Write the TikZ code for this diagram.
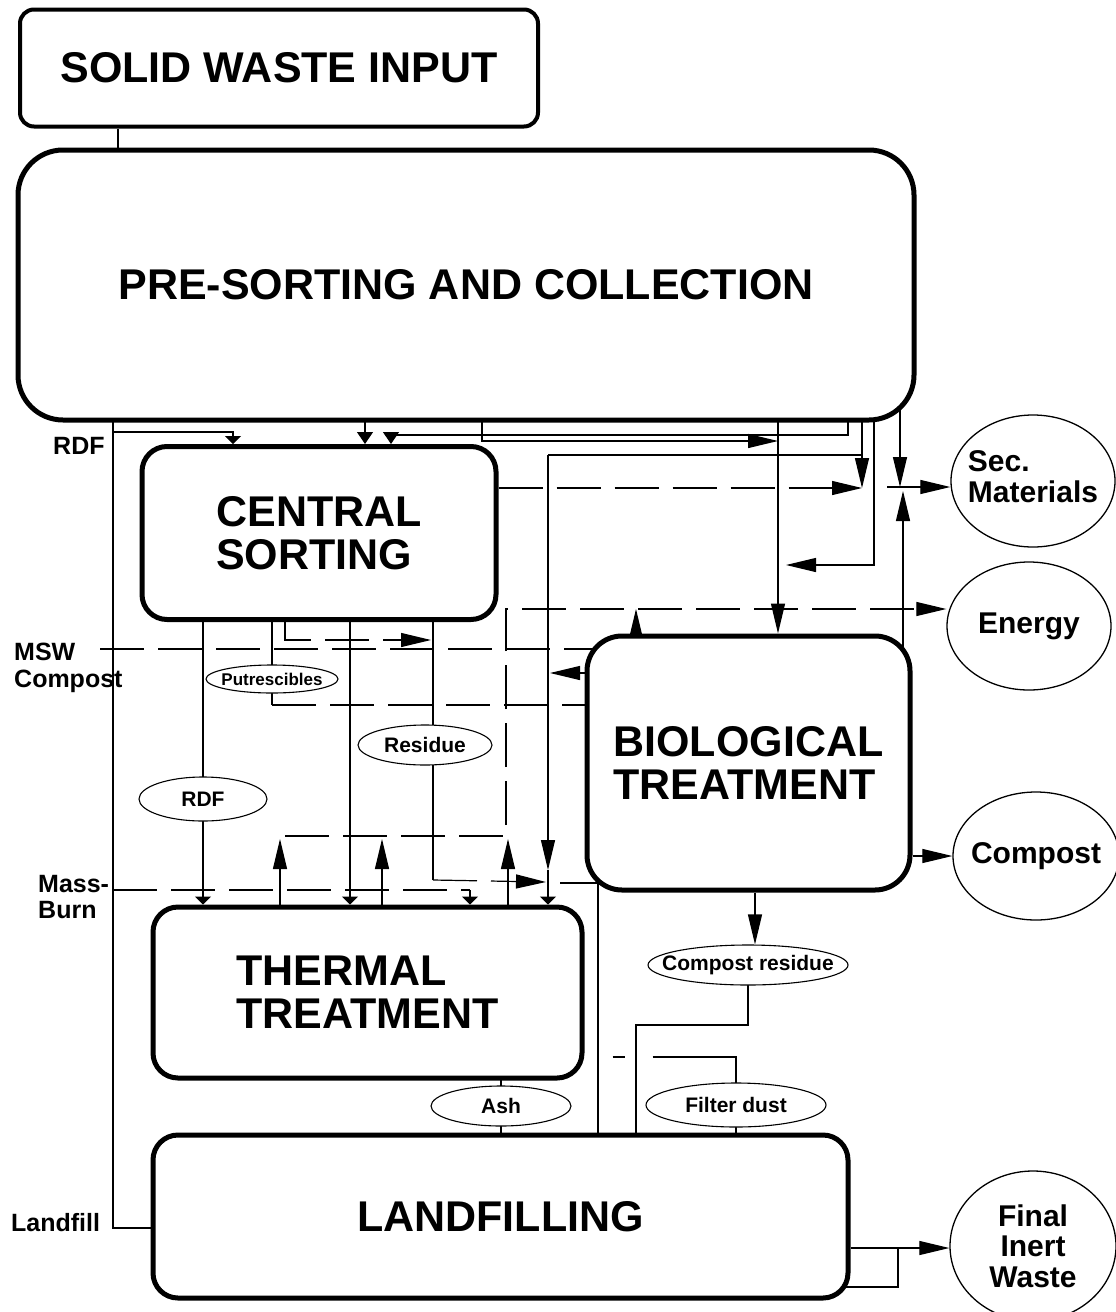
\documentclass[tikz,border=0pt]{standalone}
\usepackage{fontspec}
\setmainfont{Liberation Sans}
\usetikzlibrary{arrows.meta,shapes.geometric,backgrounds}
\tikzset{
  procbox/.style={draw, fill=white, line width=5pt, rounded corners=25pt, inner sep=0pt,
    align=left, font=\bfseries\fontsize{43}{43}\selectfont},
  outtext/.style={inner sep=0pt, align=center, font=\bfseries\fontsize{30}{30.5}\selectfont},
  outlet/.style={draw, ellipse, fill=white, line width=1.3pt, label={[outtext]center:{#1}}},
  tagtext/.style={inner sep=0pt, font=\bfseries\fontsize{21}{21}\selectfont},
  tag/.style={draw, ellipse, fill=white, line width=1.1pt, label={[tagtext]center:{#1}}},
  side/.style={anchor=west, align=left, inner sep=0pt, font=\bfseries\fontsize{25}{26.5}\selectfont},
  flow/.style={line width=1.2pt},
  arr/.style={flow, -{Triangle[length=30pt,width=14pt]}},
  stub/.style={flow, -{Triangle[length=8pt,width=16pt]}},
  drop/.style={flow, -{Triangle[length=12pt,width=16pt]}},
  dashflow/.style={dash pattern=on 44pt off 14pt}
}
\begin{document}
\begin{tikzpicture}[x=1pt,y=-1pt]
\useasboundingbox (0,0) rectangle (1116,1312);
% process boxes
\node[procbox, rounded corners=14pt, line width=4pt, minimum width=518pt, minimum height=117pt] (swi) at (279,68) {SOLID WASTE INPUT};
\node[procbox, rounded corners=45pt, minimum width=896pt, minimum height=270pt] (presort) at (466,285) {PRE-SORTING AND COLLECTION};
\node[procbox, minimum width=354pt, minimum height=173pt] (central) at (319,533) {CENTRAL\\SORTING};
\node[procbox, rounded corners=35pt, minimum width=323pt, minimum height=254pt] (bio) at (748.5,763) {BIOLOGICAL\\TREATMENT};
\node[procbox, minimum width=429pt, minimum height=171pt] (thermal) at (367.5,992.5) {THERMAL\\TREATMENT};
\node[procbox, minimum width=695pt, minimum height=163pt] (landfill) at (500.5,1216.5) {LANDFILLING};
% outputs
\node[outlet={\begin{tabular}{@{}l@{}}Sec.\\Materials\end{tabular}}, minimum width=164pt, minimum height=132pt] (secmat) at (1033,481) {};
\node[outlet=Energy, minimum width=164pt, minimum height=128pt] (energy) at (1029,626) {};
\node[outlet=Compost, minimum width=166pt, minimum height=128pt] (compost) at (1036,856) {};
\node[outlet={Final\\Inert\\Waste}, minimum width=166pt, minimum height=150pt] (inert) at (1033,1246) {};
% stream tags
\node[tag={\fontsize{17}{17}\selectfont Putrescibles}, minimum width=132pt, minimum height=28pt] (putr) at (272,679) {};
\node[tag=Residue, minimum width=134pt, minimum height=40pt] (resid) at (425,745) {};
\node[tag=RDF, minimum width=128pt, minimum height=44pt] (rdf) at (203,799) {};
\node[tag=Compost residue, minimum width=200pt, minimum height=40pt] (cres) at (748,965) {};
\node[tag=Ash, minimum width=140pt, minimum height=40pt] (ash) at (501,1106) {};
\node[tag=Filter dust, minimum width=180pt, minimum height=44pt] (fdust) at (736,1105) {};
% side labels
\node[side] (lblrdf) at (53,446) {RDF};
\node[side] (lblmsw) at (14,668) {MSW\\Compost};
\node[side] (lblmass) at (38,897) {Mass-\\Burn};
\node[side] (lblland) at (11,1223) {Landfill};
% bends and columns
\coordinate (swilink) at (118,140);
\coordinate (lfturn) at (113,1228);
\coordinate (rdfturn) at (233,432);
\coordinate (sortdrop) at (365,440);
\coordinate (psturn) at (848,435);
\coordinate (sortin) at (391,435);
\coordinate (bioturn) at (482,441);
\coordinate (biofeed) at (778,441);
\coordinate (loopturn) at (548,455);
\coordinate (loopend) at (862,455);
\coordinate (secjoin) at (862,488);
\coordinate (retturn) at (874,565);
\coordinate (retend) at (786,565);
\coordinate (secdrop) at (900,487);
\coordinate (secsplit) at (887,487);
\coordinate (secrise) at (903,491);
\coordinate (entop) at (506,609);
\coordinate (enlow) at (506,836);
\coordinate (enleft) at (285,836);
\coordinate (bioup) at (636,609);
\coordinate (sortloop) at (285,640);
\coordinate (sortloopend) at (431,640);
\coordinate (mswstart) at (100,649);
\coordinate (bioret) at (550,673);
\coordinate (putturn) at (272,705);
\coordinate (rdfdrop) at (203,860);
\coordinate (residrop) at (350,860);
\coordinate (loopdown) at (548,870);
\coordinate (resturn) at (433,880);
\coordinate (resend) at (546,882);
\coordinate (biolow) at (560,883);
\coordinate (massstart) at (113,890);
\coordinate (massturn) at (470,890);
\coordinate (lfdrop) at (598,1000);
\coordinate (cresdrop) at (755,920);
\coordinate (cresturn) at (748,1025);
\coordinate (crestwo) at (636,1025);
\coordinate (fdturn) at (736,1057);
\coordinate (inertjoin) at (898,1248);
\coordinate (inertloop) at (898,1287);
\begin{pgfonlayer}{background}
% feed, bus and pre-sorting outputs
\draw[flow] (swi.south -| swilink) -- (presort.north -| swilink);
\draw[flow] (presort.center -| lfturn) -- (lfturn) -- (landfill.center |- lfturn);
\draw[stub] (rdfturn -| lfturn) -- (rdfturn) -- (central.north -| rdfturn);
\draw[drop] (presort.center -| sortdrop) -- (central.north -| sortdrop);
\draw[drop] (presort.center -| psturn) -- (psturn) -- (sortin) -- (central.north -| sortin);
\draw[arr] (presort.center -| bioturn) -- (bioturn) -- (biofeed);
\draw[arr] (presort.center -| biofeed) -- (bio.north -| biofeed);
\draw[arr] (presort.center -| secjoin) -- (secjoin);
\draw[flow] (loopturn) -- (loopend);
\draw[arr, dashflow] (central.east |- secjoin) -- (secjoin);
\draw[arr] (presort.center -| retturn) -- (retturn) -- (retend);
\draw[arr] (presort.center -| secdrop) -- (secdrop);
\draw[arr] (bio.center -| secrise) -- (secrise);
\draw[arr] (secsplit) -- (secmat.west |- secsplit);
% energy
\draw[arr, dashflow] (enleft) -- (enlow) -- (entop) -- (energy.west |- entop);
\foreach \x [count=\i] in {280,382,508} {
  \coordinate (enup\i) at (\x,839);
  \draw[arr] (thermal.north -| enup\i) -- (enup\i);
}
\draw[arr] (bio.north -| bioup) -- (bioup);
% central sorting outputs
\draw[stub] (central.center -| rdfdrop) -- (thermal.north -| rdfdrop);
\draw[flow] (central.center -| putturn) -- (putturn);
\draw[flow, dashflow] (putturn) -- (bio.center |- putturn);
\draw[arr, dashflow] (central.south -| sortloop) -- (sortloop) -- (sortloopend);
\draw[stub] (central.south -| residrop) -- (thermal.north -| residrop);
\draw[flow] (central.south -| resturn) -- (resturn);
\draw[arr, dashflow] (resturn) -- (resend);
% biological treatment links
\draw[arr] (bio.west |- bioret) -- (bioret);
\draw[flow, dashflow] (mswstart) -- (bio.center |- mswstart);
\draw[arr] (loopturn) -- (loopdown);
\draw[stub] (loopdown) -- (thermal.north -| loopdown);
\draw[flow] (biolow) -- (bio.center |- biolow);
\draw[flow, dashflow] (massstart) -- (massturn);
\draw[stub] (massturn) -- (thermal.north -| massturn);
\draw[flow] (bio.center -| lfdrop) -- (landfill.north -| lfdrop);
\draw[arr] (bio.south -| cresdrop) -- (cres.north -| cresdrop);
\draw[flow] (cres.center) -- (cresturn) -- (crestwo) -- (landfill.north -| crestwo);
% residues to landfill
\draw[flow] (thermal.center -| ash) -- (landfill.center -| ash);
\draw[flow, dash pattern=on 0pt off 28pt on 12pt off 28pt on 400pt] (thermal.east |- fdturn) -- (fdturn) -- (landfill.north -| fdturn);
% products
\draw[arr] (bio.east |- compost) -- (compost.west);
\draw[arr] (landfill.east |- inertjoin) -- (inert.west |- inertjoin);
\draw[flow] (landfill.center |- inertloop) -- (inertloop) -- (inertjoin);
\end{pgfonlayer}
\end{tikzpicture}
\end{document}
